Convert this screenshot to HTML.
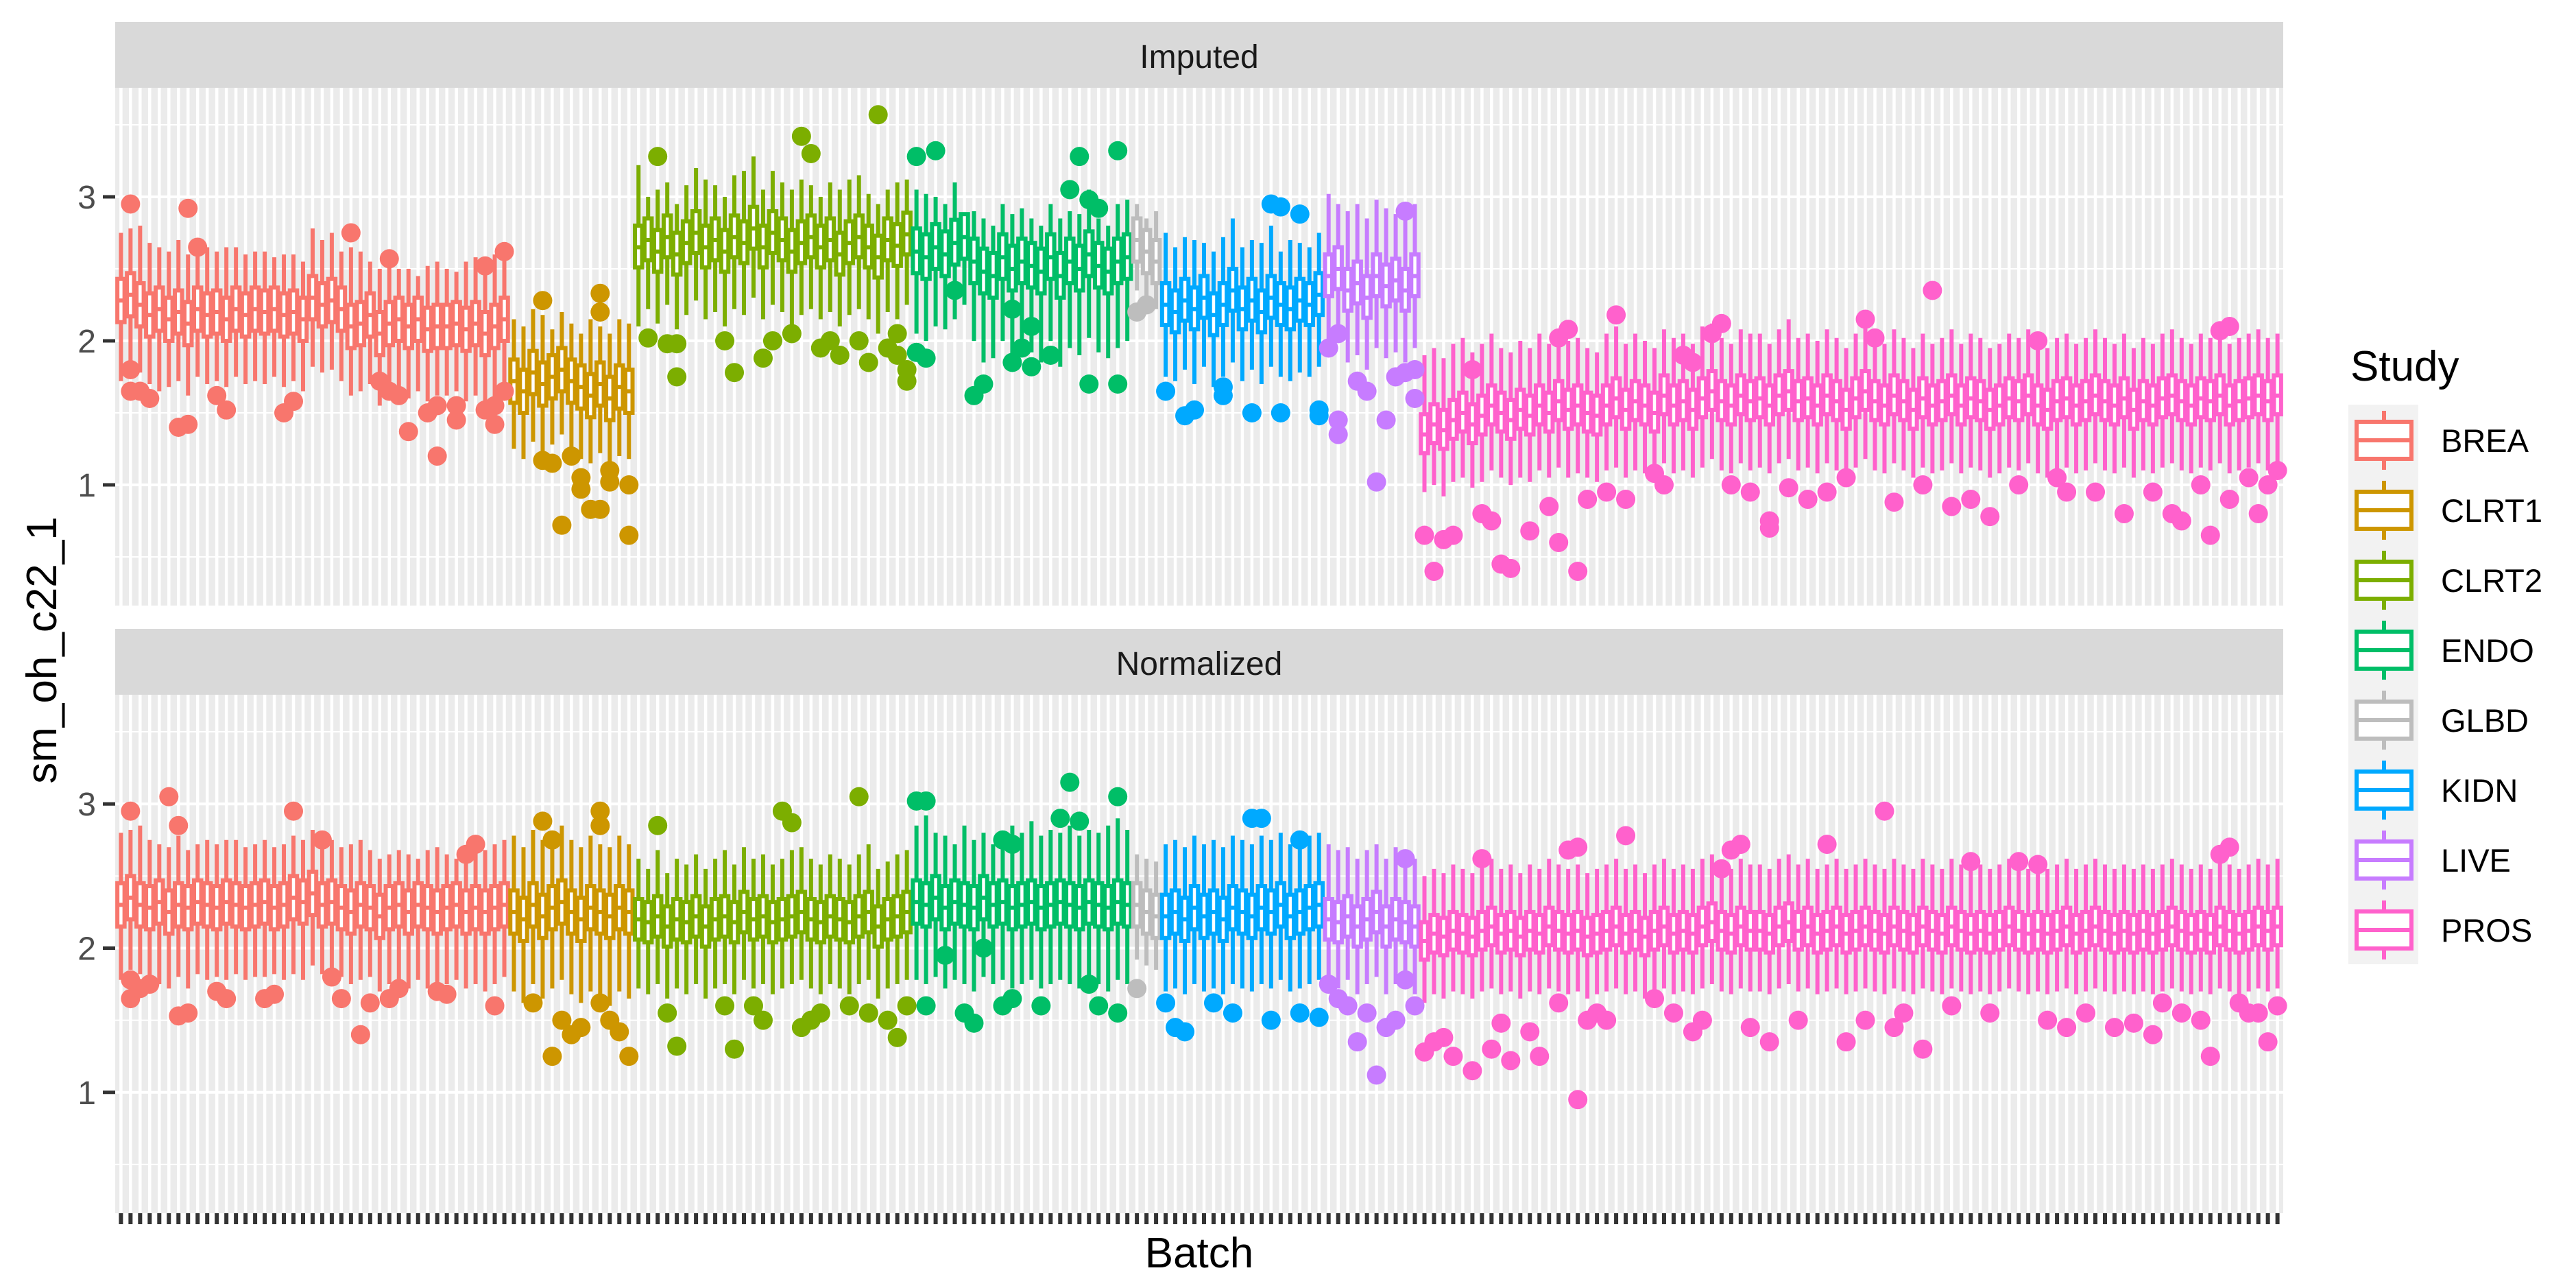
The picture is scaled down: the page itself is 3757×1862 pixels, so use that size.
<!DOCTYPE html>
<html><head><meta charset="utf-8"><style>html,body{margin:0;padding:0;background:#fff}svg{display:block;font-family:"Liberation Sans",Arial,sans-serif}</style></head>
<body>
<svg id="chart" width="3757" height="1862" viewBox="0 0 3757 1862" xmlns="http://www.w3.org/2000/svg">
<rect width="3757" height="1862" fill="#fff"/>
<g id="panels"></g>
<text x="0" y="0" transform="translate(82,948) rotate(-90)" text-anchor="middle" font-size="62" fill="#000">sm_oh_c22_1</text>
<text x="1749" y="1848" text-anchor="middle" font-size="62" fill="#000">Batch</text>
<g id="legend"></g>
</svg>
<script>
const studies=["BREA","CLRT1","CLRT2","ENDO","GLBD","KIDN","LIVE","PROS"];
const studyCounts=[41,13,29,23,3,17,10,90];
const studyColors=["#F8766D","#CD9600","#7CAE00","#00BE67","#BDBDBD","#00A9FF","#C77CFF","#FF61CC"];
const yTicks=[1,2,3];
const yTickLabels=["1","2","3"];
const yMinor=[0.5,1.5,2.5,3.5];
const panelTitles=["Imputed","Normalized"];

const impMed=[2.28,2.32,2.25,2.18,2.22,2.15,2.20,2.12,2.22,2.18,2.20,2.15,2.22,2.18,2.22,2.20,2.22,2.18,2.20,2.15,2.30,2.25,2.28,2.22,2.10,2.12,2.18,2.05,2.12,2.15,2.10,2.15,2.08,2.10,2.10,2.12,2.08,2.12,2.05,2.10,2.15,
1.72,1.65,1.78,1.70,1.75,1.80,1.72,1.68,1.62,1.70,1.60,1.68,1.65,
2.65,2.70,2.62,2.72,2.60,2.68,2.75,2.65,2.70,2.62,2.72,2.68,2.78,2.65,2.75,2.70,2.62,2.68,2.72,2.65,2.70,2.60,2.68,2.72,2.65,2.58,2.70,2.66,2.74,
2.62,2.58,2.65,2.60,2.68,2.72,2.55,2.48,2.45,2.58,2.50,2.55,2.52,2.48,2.58,2.45,2.55,2.50,2.60,2.52,2.48,2.55,2.58,
2.70,2.62,2.55,
2.25,2.20,2.28,2.22,2.30,2.18,2.25,2.35,2.22,2.28,2.20,2.30,2.25,2.22,2.28,2.25,2.32,
2.45,2.50,2.35,2.40,2.30,2.45,2.38,2.42,2.35,2.45,
1.35,1.42,1.38,1.45,1.50,1.42,1.48,1.55,1.50,1.45,1.52,1.48,1.55,1.50,1.58,1.52,1.55,1.50,1.48,1.55,1.60,1.52,1.58,1.55,1.50,1.62,1.55,1.58,1.52,1.60,1.65,1.58,1.55,1.62,1.58,1.60,1.55,1.62,1.65,1.58,1.60,1.55,1.62,1.58,1.52,1.60,1.65,1.58,1.55,1.62,1.58,1.52,1.60,1.55,1.58,1.62,1.55,1.60,1.58,1.52,1.55,1.60,1.58,1.62,1.55,1.52,1.58,1.60,1.55,1.58,1.62,1.58,1.55,1.60,1.52,1.58,1.55,1.60,1.62,1.58,1.55,1.60,1.58,1.62,1.55,1.58,1.60,1.62,1.58,1.62];
const impHi=[2.75,2.78,2.80,2.68,2.65,2.62,2.70,2.60,2.62,2.65,2.62,2.65,2.65,2.60,2.62,2.62,2.58,2.60,2.60,2.55,2.78,2.70,2.75,2.62,2.65,2.62,2.55,2.50,2.52,2.50,2.50,2.45,2.52,2.55,2.50,2.48,2.55,2.58,2.52,2.60,2.62,
2.15,2.10,2.22,2.18,2.08,2.20,2.12,2.05,2.15,2.10,2.05,2.15,2.12,
3.22,3.0,3.05,3.10,2.95,3.08,3.20,3.12,3.08,3.0,3.15,3.18,3.28,3.05,3.18,3.10,3.05,3.12,3.08,3.0,3.10,3.05,3.12,3.15,3.02,2.95,3.05,3.10,3.12,
3.05,3.02,3.0,2.95,3.10,2.75,2.90,2.85,2.80,2.95,2.88,2.92,2.85,2.80,2.95,2.85,2.90,2.88,3.05,2.85,2.80,2.95,2.98,
2.95,2.85,2.90,
2.75,2.65,2.72,2.70,2.68,2.62,2.72,2.85,2.65,2.70,2.68,2.80,2.62,2.70,2.68,2.65,2.75,
3.02,2.95,2.90,2.95,2.85,2.98,2.92,2.88,2.90,2.95,
1.90,1.95,1.88,1.98,2.02,1.92,1.98,2.05,1.95,1.92,2.0,1.95,2.05,1.98,2.08,2.0,2.02,1.95,1.92,2.05,2.10,1.98,2.05,2.0,1.95,2.08,2.02,2.05,1.98,2.10,2.12,2.02,1.98,2.08,2.05,2.05,1.98,2.08,2.15,2.02,2.05,2.0,2.08,2.02,1.95,2.05,2.12,2.0,1.98,2.08,2.02,1.95,2.05,1.98,2.02,2.08,1.98,2.05,2.02,1.95,1.98,2.05,2.02,2.08,1.98,1.95,2.02,2.05,1.98,2.02,2.08,2.02,1.98,2.05,1.95,2.02,1.98,2.05,2.08,2.02,1.98,2.05,2.02,2.08,1.98,2.02,2.05,2.08,2.02,2.05];
const impLo=[1.72,1.80,1.78,1.70,1.65,1.68,1.72,1.62,1.75,1.70,1.72,1.68,1.75,1.70,1.72,1.70,1.75,1.68,1.72,1.65,1.82,1.78,1.80,1.72,1.62,1.65,1.70,1.55,1.62,1.65,1.60,1.65,1.58,1.62,1.62,1.65,1.58,1.62,1.55,1.60,1.68,
1.25,1.18,1.30,1.20,1.28,1.35,1.22,1.18,1.15,1.22,1.12,1.20,1.18,
2.10,2.22,2.12,2.25,2.08,2.18,2.28,2.15,2.20,2.10,2.22,2.18,2.30,2.15,2.25,2.20,2.10,2.18,2.22,2.15,2.20,2.10,2.18,2.22,2.15,2.05,2.20,2.15,2.25,
2.05,2.0,2.10,2.08,2.15,2.25,2.0,1.85,1.88,2.0,1.90,1.95,1.92,1.85,2.0,1.82,1.95,1.90,2.02,1.92,1.88,1.95,2.0,
2.35,2.28,2.22,
1.75,1.72,1.80,1.70,1.82,1.68,1.75,1.85,1.72,1.80,1.70,1.82,1.75,1.72,1.78,1.75,1.82,
1.98,2.02,1.85,1.90,1.80,1.95,1.88,1.92,1.85,1.95,
0.95,1.0,0.92,1.02,1.05,0.98,1.02,1.10,1.05,1.0,1.05,1.02,1.10,1.05,1.12,1.05,1.08,1.05,1.02,1.10,1.12,1.05,1.10,1.08,1.05,1.15,1.08,1.10,1.05,1.12,1.18,1.10,1.08,1.15,1.10,1.12,1.08,1.15,1.18,1.10,1.12,1.08,1.15,1.10,1.05,1.12,1.18,1.10,1.08,1.15,1.10,1.05,1.12,1.08,1.10,1.15,1.08,1.12,1.10,1.05,1.08,1.12,1.10,1.15,1.08,1.05,1.10,1.12,1.08,1.10,1.15,1.10,1.08,1.12,1.05,1.10,1.08,1.12,1.15,1.10,1.08,1.12,1.10,1.15,1.08,1.10,1.12,1.15,1.10,1.12];
const impIqrLo=[0.15,0.15,0.14,0.15,0.15,0.14,0.14,0.13];
const impIqrHi=[0.15,0.15,0.15,0.16,0.15,0.15,0.15,0.14];
const impOutBatch=[1,1,1,2,3,7,8,6,7,10,11,17,18,24,28,27,28,29,30,32,33,33,35,35,38,38,39,40,40,39,
44,44,45,46,47,48,48,50,50,49,50,51,51,53,53,
55,56,57,58,58,63,64,67,68,70,71,72,73,74,75,77,78,79,80,81,82,82,81,
83,83,85,84,87,89,90,93,93,94,95,95,97,99,100,101,102,101,104,104,
106,107,
109,111,112,115,115,118,120,121,121,123,125,125,
126,127,127,127,129,130,131,132,133,134,134,135,135,
136,137,138,139,141,142,143,144,145,147,149,150,151,150,152,153,155,156,157,160,161,163,164,166,167,168,170,172,172,174,176,178,180,182,183,185,188,189,191,193,195,198,200,202,203,206,209,212,214,215,218,219,220,220,222,223,224,225,217];
const impOutVal=[2.95,1.8,1.65,1.65,1.6,2.92,2.65,1.4,1.42,1.62,1.52,1.5,1.58,2.75,2.57,1.72,1.65,1.62,1.37,1.5,1.2,1.55,1.45,1.55,1.52,2.52,1.55,2.62,1.65,1.42,
2.28,1.17,1.15,0.72,1.2,1.05,0.97,2.33,2.2,0.83,0.83,1.1,1.02,1.0,0.65,
2.02,3.28,1.98,1.98,1.75,2.0,1.78,1.88,2.0,2.05,3.42,3.3,1.95,2.0,1.9,2.0,1.85,3.57,1.95,2.05,1.8,1.72,1.9,
1.92,3.28,3.32,1.88,2.35,1.62,1.7,2.22,1.85,1.95,2.1,1.82,1.9,3.05,3.28,2.98,2.92,1.7,3.32,1.7,
2.2,2.25,
1.65,1.48,1.52,1.68,1.62,1.5,2.95,2.93,1.5,2.88,1.52,1.48,
1.95,2.05,1.45,1.35,1.72,1.65,1.02,1.45,1.75,1.78,2.9,1.8,1.6,
0.65,0.4,0.62,0.65,1.8,0.8,0.75,0.45,0.42,0.68,0.85,2.02,2.08,0.6,0.4,0.9,0.95,2.18,0.9,1.08,1.0,1.9,1.85,2.05,2.12,1.0,0.95,0.75,0.7,0.98,0.9,0.95,1.05,2.15,2.02,0.88,1.0,2.35,0.85,0.9,0.78,1.0,2.0,1.05,0.95,0.95,0.8,0.95,0.8,0.75,0.65,2.07,2.1,0.9,1.05,0.8,1.0,1.1,1.0];

const norMed=[2.30,2.35,2.30,2.28,2.32,2.25,2.30,2.28,2.32,2.30,2.28,2.32,2.30,2.28,2.30,2.32,2.28,2.30,2.35,2.32,2.38,2.30,2.32,2.28,2.25,2.30,2.28,2.22,2.28,2.30,2.25,2.30,2.28,2.25,2.28,2.30,2.25,2.28,2.25,2.28,2.30,
2.25,2.20,2.30,2.22,2.28,2.32,2.25,2.20,2.28,2.25,2.22,2.28,2.25,
2.20,2.18,2.22,2.15,2.20,2.18,2.22,2.15,2.20,2.22,2.18,2.25,2.20,2.22,2.18,2.20,2.22,2.25,2.20,2.18,2.22,2.20,2.18,2.22,2.25,2.15,2.20,2.22,2.25,
2.32,2.30,2.35,2.28,2.32,2.30,2.28,2.35,2.30,2.32,2.28,2.30,2.32,2.28,2.30,2.32,2.30,2.28,2.32,2.30,2.28,2.32,2.30,
2.30,2.25,2.22,
2.22,2.25,2.20,2.28,2.22,2.25,2.20,2.28,2.25,2.22,2.28,2.25,2.30,2.22,2.25,2.28,2.30,
2.20,2.18,2.22,2.15,2.20,2.25,2.15,2.20,2.18,2.15,
2.05,2.10,2.08,2.12,2.10,2.08,2.12,2.15,2.10,2.12,2.08,2.12,2.10,2.15,2.12,2.10,2.12,2.08,2.10,2.12,2.15,2.10,2.12,2.08,2.12,2.15,2.10,2.12,2.10,2.15,2.18,2.12,2.10,2.15,2.12,2.12,2.10,2.15,2.18,2.12,2.15,2.10,2.12,2.15,2.10,2.12,2.15,2.12,2.10,2.15,2.12,2.10,2.15,2.12,2.10,2.15,2.12,2.10,2.12,2.10,2.12,2.15,2.12,2.10,2.12,2.10,2.12,2.15,2.10,2.12,2.15,2.12,2.10,2.12,2.10,2.12,2.10,2.12,2.15,2.12,2.10,2.12,2.10,2.15,2.12,2.10,2.12,2.15,2.12,2.15];
const norHi=[2.80,2.82,2.85,2.75,2.72,2.70,2.78,2.68,2.72,2.75,2.72,2.75,2.75,2.70,2.72,2.75,2.70,2.72,2.78,2.75,2.82,2.72,2.75,2.70,2.72,2.75,2.68,2.62,2.65,2.68,2.65,2.62,2.68,2.70,2.65,2.62,2.70,2.72,2.68,2.72,2.75,
2.78,2.70,2.82,2.75,2.72,2.85,2.75,2.70,2.78,2.72,2.70,2.78,2.72,
2.62,2.55,2.68,2.52,2.62,2.58,2.65,2.55,2.62,2.68,2.58,2.70,2.62,2.65,2.58,2.62,2.68,2.70,2.62,2.58,2.65,2.62,2.58,2.65,2.72,2.55,2.60,2.65,2.68,
2.85,2.92,2.80,2.78,2.72,2.85,2.75,2.80,2.72,2.78,2.85,2.80,2.88,2.78,2.82,2.80,2.85,2.78,2.82,2.80,2.85,2.90,2.82,
2.65,2.62,2.60,
2.72,2.75,2.70,2.78,2.72,2.75,2.70,2.78,2.75,2.72,2.78,2.75,2.80,2.72,2.75,2.78,2.80,
2.72,2.68,2.70,2.62,2.68,2.72,2.62,2.70,2.68,2.62,
2.50,2.55,2.52,2.58,2.55,2.52,2.58,2.62,2.55,2.58,2.52,2.58,2.55,2.62,2.58,2.55,2.58,2.52,2.55,2.58,2.62,2.55,2.58,2.52,2.58,2.62,2.55,2.58,2.55,2.62,2.65,2.58,2.55,2.62,2.58,2.58,2.55,2.62,2.65,2.58,2.62,2.55,2.58,2.62,2.55,2.58,2.62,2.58,2.55,2.62,2.58,2.55,2.62,2.58,2.55,2.62,2.58,2.55,2.58,2.55,2.58,2.62,2.58,2.55,2.58,2.55,2.58,2.62,2.55,2.58,2.62,2.58,2.55,2.58,2.55,2.58,2.55,2.58,2.62,2.58,2.55,2.58,2.55,2.62,2.58,2.55,2.58,2.62,2.58,2.62];
const norLo=[1.78,1.85,1.82,1.78,1.75,1.72,1.80,1.72,1.82,1.78,1.80,1.78,1.82,1.78,1.80,1.80,1.82,1.78,1.82,1.78,1.88,1.82,1.85,1.80,1.75,1.78,1.80,1.70,1.75,1.78,1.72,1.78,1.72,1.75,1.75,1.78,1.72,1.75,1.70,1.75,1.80,
1.70,1.62,1.75,1.65,1.72,1.78,1.68,1.62,1.70,1.65,1.60,1.70,1.65,
1.72,1.68,1.75,1.65,1.72,1.68,1.75,1.65,1.72,1.75,1.68,1.78,1.72,1.75,1.68,1.72,1.75,1.78,1.72,1.68,1.75,1.72,1.68,1.75,1.78,1.65,1.72,1.75,1.78,
1.78,1.75,1.80,1.72,1.78,1.75,1.70,1.80,1.75,1.78,1.72,1.75,1.78,1.72,1.75,1.78,1.75,1.72,1.78,1.75,1.70,1.78,1.75,
1.92,1.88,1.85,
1.70,1.72,1.68,1.75,1.70,1.72,1.68,1.75,1.72,1.70,1.75,1.72,1.78,1.70,1.72,1.75,1.78,
1.75,1.72,1.78,1.68,1.75,1.80,1.68,1.75,1.72,1.68,
1.62,1.68,1.65,1.70,1.68,1.65,1.70,1.72,1.68,1.70,1.65,1.70,1.68,1.72,1.70,1.68,1.70,1.65,1.68,1.70,1.72,1.68,1.70,1.65,1.70,1.72,1.68,1.70,1.68,1.72,1.75,1.70,1.68,1.72,1.70,1.70,1.68,1.72,1.75,1.70,1.72,1.68,1.70,1.72,1.68,1.70,1.72,1.70,1.68,1.72,1.70,1.68,1.72,1.70,1.68,1.72,1.70,1.68,1.70,1.68,1.70,1.72,1.70,1.68,1.70,1.68,1.70,1.72,1.68,1.70,1.72,1.70,1.68,1.70,1.68,1.70,1.68,1.70,1.72,1.70,1.68,1.70,1.68,1.72,1.70,1.68,1.70,1.72,1.70,1.72];
const norIqrLo=[0.15,0.15,0.14,0.15,0.15,0.15,0.14,0.13];
const norIqrHi=[0.15,0.15,0.14,0.15,0.15,0.15,0.14,0.13];
const norOutBatch=[1,1,1,2,3,5,6,6,7,10,11,15,16,18,21,22,23,25,26,28,29,33,34,36,37,39,
43,44,45,45,46,47,48,50,50,50,51,52,53,
56,57,58,63,64,66,67,69,70,71,72,73,76,77,78,80,81,82,
83,84,84,86,88,89,90,92,93,92,93,96,98,99,100,101,102,104,104,
106,
109,110,111,114,116,118,119,120,123,123,125,
126,127,128,129,130,131,132,133,134,134,135,
136,137,138,139,141,142,143,144,145,147,148,150,151,152,152,153,154,155,157,160,162,164,165,167,168,169,170,172,175,178,180,182,184,185,186,188,191,193,195,198,200,201,203,205,208,210,212,213,215,217,218,219,220,221,222,223,224,225];
const norOutVal=[2.95,1.78,1.65,1.72,1.75,3.05,2.85,1.53,1.55,1.7,1.65,1.65,1.68,2.95,2.75,1.8,1.65,1.4,1.62,1.65,1.72,1.7,1.68,2.65,2.72,1.6,
1.62,2.88,2.75,1.25,1.5,1.4,1.45,2.95,2.85,1.62,1.5,1.42,1.25,
2.85,1.55,1.32,1.6,1.3,1.6,1.5,2.95,2.87,1.45,1.5,1.55,1.6,3.05,1.55,1.5,1.38,1.6,
3.02,3.02,1.6,1.95,1.55,1.48,2.0,2.75,2.72,1.6,1.65,1.6,2.9,3.15,2.88,1.75,1.6,3.05,1.55,
1.72,
1.62,1.45,1.42,1.62,1.55,2.9,2.9,1.5,1.55,2.75,1.52,
1.75,1.65,1.6,1.35,1.55,1.12,1.45,1.5,2.62,1.78,1.6,
1.28,1.35,1.38,1.25,1.15,2.62,1.3,1.48,1.22,1.42,1.25,1.62,2.68,2.7,0.95,1.5,1.55,1.5,2.78,1.65,1.55,1.42,1.5,2.55,2.68,2.72,1.45,1.35,1.5,2.72,1.35,1.5,2.95,1.45,1.55,1.3,1.6,2.6,1.55,2.6,2.58,1.5,1.45,1.55,1.45,1.48,1.4,1.62,1.55,1.5,1.25,2.65,2.7,1.62,1.55,1.55,1.35,1.6];

const SVGNS="http://www.w3.org/2000/svg";
const X0=168,X1=3330;
const nBatch=studyCounts.reduce((a,b)=>a+b,0);
const step=(X1-X0)/(nBatch-1+1.2);
function xPos(i){return X0+(0.6+i)*step;}
const YMIN=0.162,YMAX=3.757;
function yScale(v,top,bottom){return bottom-(v-YMIN)/(YMAX-YMIN)*(bottom-top);}
const studyOf=[];
studyCounts.forEach((c,s)=>{for(let k=0;k<c;k++)studyOf.push(s);});
const LW=6;

function mk(tag,attrs,parent){const e=document.createElementNS(SVGNS,tag);for(const k in attrs)e.setAttribute(k,attrs[k]);parent.appendChild(e);return e;}

const panelsG=document.getElementById('panels');
const panelDefs=[
 {title:panelTitles[0],stripTop:32,top:128,bottom:883,med:impMed,hi:impHi,lo:impLo,iqrLo:impIqrLo,iqrHi:impIqrHi,ob:impOutBatch,ov:impOutVal,key:'imputed'},
 {title:panelTitles[1],stripTop:917,top:1013,bottom:1769,med:norMed,hi:norHi,lo:norLo,iqrLo:norIqrLo,iqrHi:norIqrHi,ob:norOutBatch,ov:norOutVal,key:'normalized'}
];
panelDefs.forEach(p=>{
 const g=mk('g',{},panelsG);
 
 
 const strip=mk('rect',{x:X0,y:p.stripTop,width:X1-X0,height:p.top-p.stripTop,fill:'#D9D9D9'},g);
 
 
 const st=mk('text',{x:(X0+X1)/2,y:p.stripTop+67,'text-anchor':'middle','font-size':48,fill:'#1A1A1A'},g);
 st.textContent=p.title;
 
 
 const bg=mk('rect',{x:X0,y:p.top,width:X1-X0,height:p.bottom-p.top,fill:'#EBEBEB'},g);
 
 
 yMinor.forEach(v=>{const y=yScale(v,p.top,p.bottom);const l=mk('line',{x1:X0,x2:X1,y1:y,y2:y,stroke:'#fff','stroke-width':2},g);
  
  });
 yTicks.forEach(v=>{const y=yScale(v,p.top,p.bottom);const l=mk('line',{x1:X0,x2:X1,y1:y,y2:y,stroke:'#fff','stroke-width':4},g);
  
  });
 for(let i=0;i<nBatch;i++){const x=xPos(i);const l=mk('line',{x1:x,x2:x,y1:p.top,y2:p.bottom,stroke:'#fff','stroke-width':4.5},g);
  
  }
 yTicks.forEach((v,k)=>{const y=yScale(v,p.top,p.bottom);
  const t=mk('line',{x1:150,x2:X0,y1:y,y2:y,stroke:'#333','stroke-width':5},g);
  
  
  const lb=mk('text',{x:140,y:y+17,'text-anchor':'end','font-size':48,fill:'#4D4D4D'},g);
  lb.textContent=yTickLabels[k];
  
  });
 const hw=step*0.375;
 for(let i=0;i<nBatch;i++){
  const s=studyOf[i],c=studyColors[s],x=xPos(i);
  const q1=p.med[i]-p.iqrLo[s],q3=p.med[i]+p.iqrHi[s];
  const bx=mk('g',{},g);
  
  
  mk('line',{x1:x,x2:x,y1:yScale(p.hi[i],p.top,p.bottom),y2:yScale(q3,p.top,p.bottom),stroke:c,'stroke-width':LW},bx);
  mk('line',{x1:x,x2:x,y1:yScale(q1,p.top,p.bottom),y2:yScale(p.lo[i],p.top,p.bottom),stroke:c,'stroke-width':LW},bx);
  const yt=yScale(q3,p.top,p.bottom),yb=yScale(q1,p.top,p.bottom);
  mk('rect',{x:x-hw,y:yt,width:2*hw,height:yb-yt,fill:'#fff',stroke:c,'stroke-width':LW},bx);
  const ym=yScale(p.med[i],p.top,p.bottom);
  mk('line',{x1:x-hw,x2:x+hw,y1:ym,y2:ym,stroke:c,'stroke-width':LW},bx);
 }
 for(let k=0;k<p.ob.length;k++){
  const b=p.ob[k];
  const d=mk('circle',{cx:xPos(b),cy:yScale(p.ov[k],p.top,p.bottom),r:14,fill:studyColors[studyOf[b]]},g);
  
  
 }
});
for(let i=0;i<nBatch;i++){const x=xPos(i);const t=mk('line',{x1:x,x2:x,y1:1769,y2:1785,stroke:'#333','stroke-width':6},panelsG);
 
 }
const lg=document.getElementById('legend');
const lt=mk('text',{x:3428,y:555,'font-size':62,fill:'#000'},lg);
lt.textContent='Study';


const lbg=mk('rect',{x:3425,y:590,width:102,height:studies.length*102,fill:'#F2F2F2'},lg);


studies.forEach((s,k)=>{
 const cy=642+k*102,c=studyColors[k];
 const e=mk('g',{},lg);
 
 
 mk('line',{x1:3477,x2:3477,y1:cy-43,y2:cy+43,stroke:c,'stroke-width':6},e);
 mk('rect',{x:3437,y:cy-27,width:80,height:54,fill:'#fff',stroke:c,'stroke-width':6},e);
 mk('line',{x1:3437,x2:3517,y1:cy,y2:cy,stroke:c,'stroke-width':6},e);
 const t=mk('text',{x:3560,y:cy+17,'font-size':47,fill:'#000'},e);
 t.textContent=s;
});
</script>
</body></html>
